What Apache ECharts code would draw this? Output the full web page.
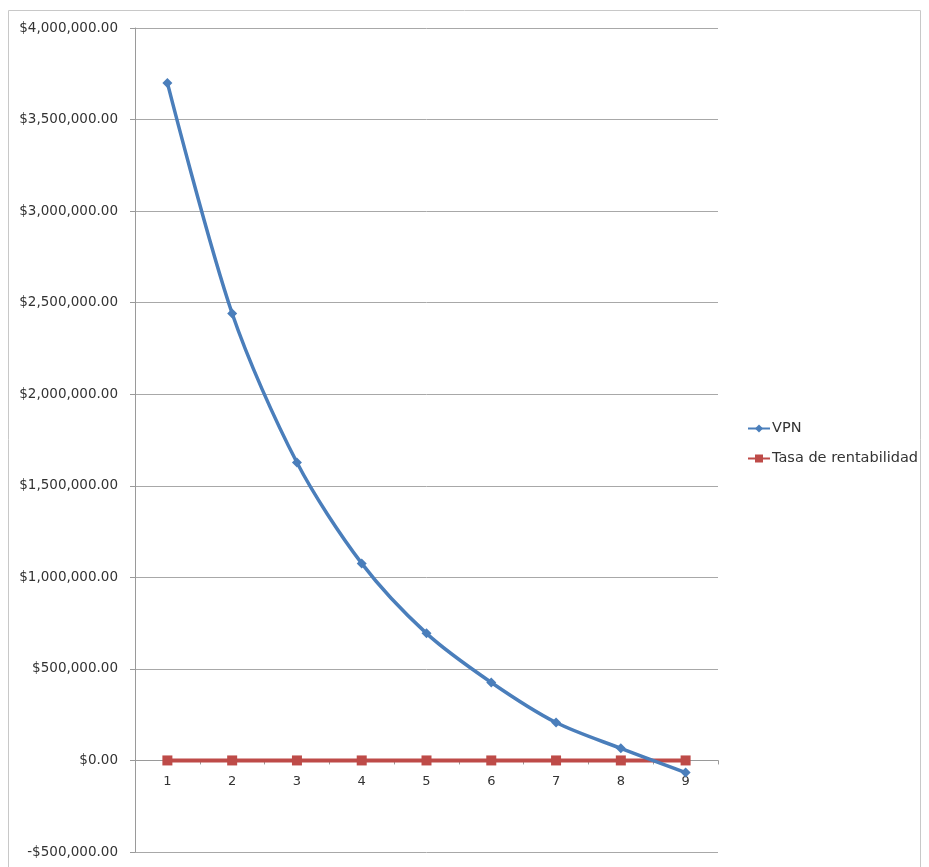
<!DOCTYPE html>
<html>
<head>
<meta charset="utf-8">
<script src="https://cdn.jsdelivr.net/npm/echarts@6/dist/echarts.min.js"></script>
<style>
  html, body { margin: 0; padding: 0; background: #ffffff; }
  #chart { width: 929px; height: 867px; }
</style>
</head>
<body>
<div id="chart"></div>
<script>
// Periods on the horizontal axis
const periods = ['1', '2', '3', '4', '5', '6', '7', '8', '9'];
// Net present value per period
const vpn = [3700000, 2441000, 1627000, 1076000, 694000, 426000, 207000, 66000, -66000];
// Profitability rate per period (near zero on this scale)
const tasa = [0, 0, 0, 0, 0, 0, 0, 0, 0];

// Value axis range
const yMin = -500000;
const yMax = 4000000;
const yStep = 500000;

const fmtMoney = v => {
  const neg = v < 0;
  const s = Math.abs(v).toFixed(2).replace(/\B(?=(\d{3})+(?!\d))/g, ',');
  return (neg ? '-$' : '$') + s;
};

const W = 929, H = 867;
const grid = { left: 135, right: 211, top: 28, bottom: 15 };
const plotH = H - grid.top - grid.bottom;
// Distance from the bottom of the plot up to the zero line, so the
// category labels sit just under it.
const zeroLift = plotH * (0 - yMin) / (yMax - yMin);

const FONT = 'DejaVu Sans';

const chart = echarts.init(document.getElementById('chart'));
chart.setOption({
  animation: false,
  textStyle: { fontFamily: FONT },
  graphic: [{
    type: 'rect',
    shape: { x: 8.5, y: 10.5, width: 912, height: 860 },
    style: { fill: 'none', stroke: '#c8c8c8', lineWidth: 1 },
    silent: true
  }],
  grid: grid,
  legend: {
    orient: 'vertical',
    left: 742,
    top: 416,
    itemWidth: 22,
    itemHeight: 10,
    itemGap: 15,
    textStyle: { fontSize: 14.5, color: '#333', fontFamily: FONT, padding: [0, 0, 0, -3] },
    data: ['VPN', 'Tasa de rentabilidad']
  },
  xAxis: [
    {
      type: 'category',
      data: periods,
      boundaryGap: true,
      axisLine: { onZero: true, lineStyle: { color: '#9a9a9a', width: 1 } },
      axisTick: { show: true, length: 4, lineStyle: { color: '#9a9a9a' } },
      axisLabel: { show: false },
      splitLine: { show: false }
    },
    {
      type: 'category',
      data: periods,
      boundaryGap: true,
      position: 'bottom',
      offset: -zeroLift,
      axisLine: { show: false, onZero: false },
      axisTick: { show: false },
      axisLabel: { fontSize: 13, color: '#333', margin: 15, fontFamily: FONT },
      splitLine: { show: false }
    }
  ],
  yAxis: {
    type: 'value',
    min: yMin,
    max: yMax,
    interval: yStep,
    axisLine: { show: true, onZero: false, lineStyle: { color: '#9a9a9a' } },
    axisTick: { show: true, length: 5, lineStyle: { color: '#9a9a9a' } },
    axisLabel: { fontSize: 13.5, color: '#333', margin: 17, formatter: fmtMoney, fontFamily: FONT },
    splitLine: { show: true, lineStyle: { color: '#a8a8a8', width: 1 } }
  },
  series: [
    {
      name: 'VPN',
      type: 'line',
      xAxisIndex: 0,
      data: vpn,
      symbol: 'diamond',
      symbolSize: 10,
      smooth: 0.3,
      itemStyle: { color: '#4a7ebb' },
      lineStyle: { color: '#4a7ebb', width: 3.5 },
      z: 3
    },
    {
      name: 'Tasa de rentabilidad',
      type: 'line',
      xAxisIndex: 0,
      data: tasa,
      symbol: 'rect',
      symbolSize: 10,
      itemStyle: { color: '#be4b48' },
      lineStyle: { color: '#be4b48', width: 4 },
      z: 2
    }
  ]
});
</script>
</body>
</html>
